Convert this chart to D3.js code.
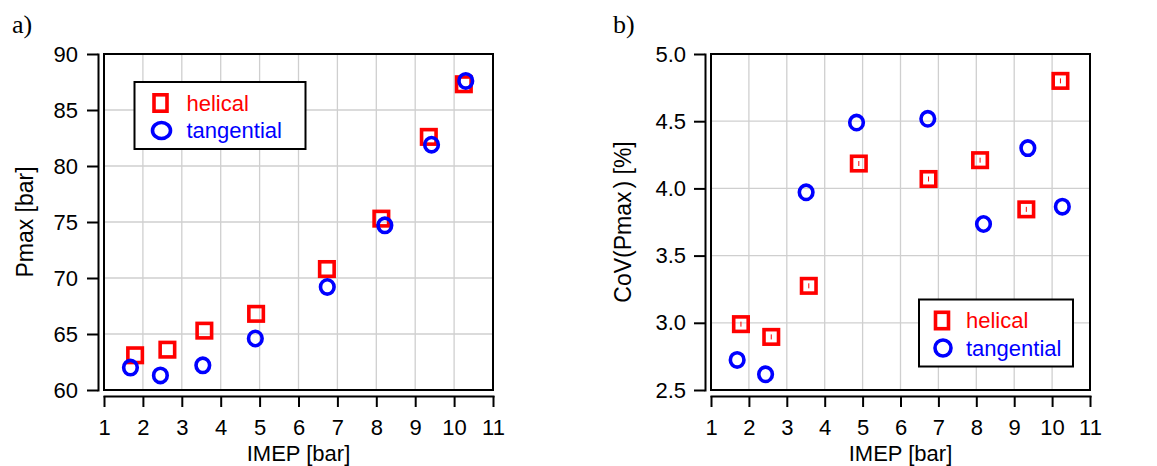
<!DOCTYPE html>
<html>
<head>
<meta charset="utf-8">
<script src="https://cdn.jsdelivr.net/npm/d3@7"></script>
<style>
  body { margin: 0; background: #fff; }
  svg { display: block; font-family: "Liberation Sans", Arial, sans-serif; }
  .grid line { stroke: #cfcfcf; stroke-width: 1.3; }
  .axis path, .axis line { stroke: #000; stroke-width: 2; }
  .axis text { font-size: 22px; fill: #000; }
</style>
</head>
<body>
<svg id="chart" width="1157" height="466"></svg>
<script>
// IMEP values (x) for each series
var imepHelicalA = [1.80, 2.63, 3.58, 4.91, 6.73, 8.13, 9.35, 10.25];
var imepTangentialA = [1.68, 2.45, 3.54, 4.89, 6.74, 8.22, 9.42, 10.30];
var pmaxHelical = [63.1, 63.6, 65.3, 66.8, 70.8, 75.3, 82.6, 87.3];
var pmaxTangential = [62.0, 61.3, 62.2, 64.6, 69.2, 74.7, 81.9, 87.6];

var imepHelicalB = [1.79, 2.59, 3.58, 4.90, 6.74, 8.10, 9.32, 10.22];
var imepTangentialB = [1.69, 2.44, 3.51, 4.84, 6.72, 8.19, 9.36, 10.27];
var covHelical = [2.99, 2.895, 3.275, 4.185, 4.07, 4.21, 3.844, 4.80];
var covTangential = [2.724, 2.617, 3.971, 4.49, 4.518, 3.735, 4.30, 3.864];

var xTicks = [1, 2, 3, 4, 5, 6, 7, 8, 9, 10, 11];
var pmaxTicks = [60, 65, 70, 75, 80, 85, 90];
var covTicks = [2.5, 3.0, 3.5, 4.0, 4.5, 5.0];
var seriesNames = ["helical", "tangential"];

var red = "#ff0000", blue = "#0000ff";
var svg = d3.select("#chart");

function panel(o) {
  var x = d3.scaleLinear().domain([1, 11]).range([o.left, o.right]);
  var y = d3.scaleLinear().domain(o.yDomain).range([o.bottom, o.top]);
  var g = svg.append("g");

  // grid
  g.append("g").attr("class", "grid")
    .selectAll("line.v").data(xTicks.slice(1, -1)).join("line")
    .attr("x1", d => x(d)).attr("x2", d => x(d))
    .attr("y1", o.top).attr("y2", o.bottom);
  g.append("g").attr("class", "grid")
    .selectAll("line.h").data(o.yTicks.slice(1, -1)).join("line")
    .attr("y1", d => y(d)).attr("y2", d => y(d))
    .attr("x1", o.left).attr("x2", o.right);

  // frame
  g.append("rect")
    .attr("x", o.left).attr("y", o.top)
    .attr("width", o.right - o.left).attr("height", o.bottom - o.top)
    .attr("fill", "none").attr("stroke", "#000").attr("stroke-width", 2);

  // detached axes
  g.append("g").attr("class", "axis")
    .attr("transform", "translate(" + (o.left - 6) + ",0)")
    .call(d3.axisLeft(y).tickValues(o.yTicks).tickFormat(o.yFormat)
      .tickSize(11).tickSizeOuter(0).tickPadding(o.yPad));
  g.append("g").attr("class", "axis")
    .attr("transform", "translate(0," + (o.bottom + 6) + ")")
    .call(d3.axisBottom(x).tickValues(xTicks).tickFormat(d3.format("d"))
      .tickSize(11).tickSizeOuter(0).tickPadding(12));
  g.selectAll(".axis .domain").attr("stroke-linecap", "square");

  // titles
  g.append("text")
    .attr("x", (o.left + o.right) / 2).attr("y", 460.5)
    .attr("text-anchor", "middle").attr("font-size", 22)
    .text("IMEP [bar]");
  var yt = g.append("text")
    .attr("transform", "translate(" + o.yTitleX + "," + ((o.top + o.bottom) / 2) + ") rotate(-90)")
    .attr("text-anchor", "middle").attr("font-size", 23);
  o.yTitle(yt);

  g.append("text")
    .attr("x", o.tagX).attr("y", 33)
    .attr("font-family", "'Liberation Serif', 'Times New Roman', serif")
    .attr("font-size", 26)
    .text(o.tag);

  // data
  var hel = d3.zip(o.hx, o.hy);
  var tan = d3.zip(o.tx, o.ty);
  var s = 14.5;
  g.append("g").selectAll("rect").data(hel).join("rect")
    .attr("x", d => x(d[0]) - s / 2).attr("y", d => y(d[1]) - s / 2)
    .attr("width", s).attr("height", s)
    .attr("fill", "none").attr("stroke", red).attr("stroke-width", 3.6);
  if (o.errTicks) {
    g.append("g").selectAll("line").data(hel).join("line")
      .attr("x1", d => x(d[0])).attr("x2", d => x(d[0]))
      .attr("y1", d => y(d[1]) - 2.5).attr("y2", d => y(d[1]) + 2.5)
      .attr("stroke", red).attr("stroke-width", 1);
  }
  g.append("g").selectAll("ellipse").data(tan).join("ellipse")
    .attr("cx", d => x(d[0])).attr("cy", d => y(d[1]))
    .attr("rx", 6.8).attr("ry", 7.2)
    .attr("fill", "none").attr("stroke", blue).attr("stroke-width", 3.6);

  // legend
  var L = o.legend;
  var lg = g.append("g");
  lg.append("rect")
    .attr("x", L.x).attr("y", L.y).attr("width", L.w).attr("height", L.h)
    .attr("fill", "#fff").attr("stroke", "#000").attr("stroke-width", 2);
  lg.append("rect")
    .attr("x", L.x + L.mx - 6.5).attr("y", L.y + 21 - 8.2)
    .attr("width", 13).attr("height", 16.4)
    .attr("fill", "none").attr("stroke", red).attr("stroke-width", 3.6);
  lg.append("ellipse")
    .attr("cx", L.x + L.mx + 1).attr("cy", L.y + 48.5)
    .attr("rx", L.r).attr("ry", 8)
    .attr("fill", "none").attr("stroke", blue).attr("stroke-width", 3.6);
  lg.selectAll("text").data(seriesNames).join("text")
    .attr("x", L.x + L.tx).attr("y", (d, i) => L.y + 28.5 + i * 27.5)
    .attr("font-size", 22)
    .attr("fill", (d, i) => i ? blue : red)
    .text(d => d);
}

panel({
  left: 104, right: 493, top: 54, bottom: 390,
  yDomain: [60, 90], yTicks: pmaxTicks, yFormat: d3.format("d"), yPad: 9,
  yTitleX: 32.5,
  yTitle: t => t.text("Pmax [bar]"),
  tag: "a)", tagX: 12,
  hx: imepHelicalA, hy: pmaxHelical, tx: imepTangentialA, ty: pmaxTangential,
  errTicks: false,
  legend: { x: 134.5, y: 82, w: 171, h: 67, mx: 26, tx: 52, r: 9 }
});

panel({
  left: 711, right: 1090, top: 54, bottom: 390,
  yDomain: [2.5, 5.0], yTicks: covTicks, yFormat: d3.format(".1f"), yPad: 8,
  yTitleX: 631,
  yTitle: t => { t.append("tspan").text("CoV(Pmax"); t.append("tspan").attr("dx", 3).text(") [%]"); },
  tag: "b)", tagX: 613,
  hx: imepHelicalB, hy: covHelical, tx: imepTangentialB, ty: covTangential,
  errTicks: true,
  legend: { x: 919, y: 299.5, w: 154, h: 67, mx: 23, tx: 47, r: 8 }
});
</script>
</body>
</html>
